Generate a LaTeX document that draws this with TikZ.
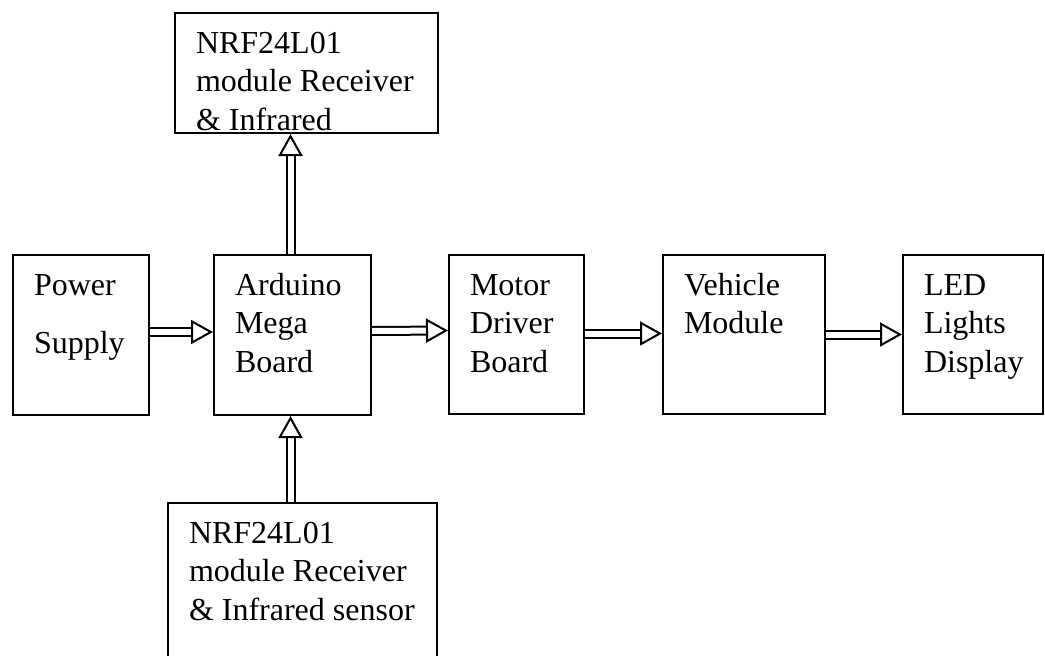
\documentclass[tikz,border=0pt]{standalone}
\usepackage{fontspec}
\setmainfont{Liberation Serif}
\usepackage{tikz}
\usetikzlibrary{arrows.meta, positioning, backgrounds}

% text block at the top left of a box
\newcommand{\blocktext}[3]{\parbox[c][#2][t]{#1}{\raggedright\leftskip=21pt\rule{0pt}{40pt}#3}}

\tikzset{
  blk/.style={draw, line width=2pt, anchor=north west, inner sep=0pt,
              font=\fontsize{32}{38.5}\selectfont},
  flow/.style={double, double distance=6pt, line width=2pt,
               -{Triangle[open, length=22pt, width=24pt, line width=2pt]}}
}

\begin{document}
\begin{tikzpicture}[x=1pt, y=-1pt]
  \useasboundingbox (0,0) rectangle (1045,656);

  \node[blk] (nrftop) at (174,12) {\blocktext{263pt}{120pt}{NRF24L01\\ module Receiver\\ \& Infrared}};
  \node[blk] (power) at (12,254) {\blocktext{136pt}{160pt}{Power\\[19.5pt] Supply}};
  \node[blk] (arduino) at (213,254) {\blocktext{157pt}{160pt}{Arduino\\ Mega\\ Board}};
  \node[blk] (motor) at (448,254) {\blocktext{135pt}{159pt}{Motor\\ Driver\\ Board}};
  \node[blk] (vehicle) at (662,254) {\blocktext{162pt}{159pt}{Vehicle\\ Module}};
  \node[blk] (led) at (902,254) {\blocktext{140pt}{159pt}{LED\\ Lights\\ Display}};
  \node[blk] (nrfbot) at (167,502) {\blocktext{269pt}{165pt}{NRF24L01\\ module Receiver\\ \& Infrared sensor}};

  \begin{scope}[on background layer]
    \draw[flow] ([yshift=3pt]power.east) -- ([yshift=3pt]arduino.west);
    \draw[flow] ([yshift=4pt]arduino.east) -- ([yshift=4pt]motor.west);
    \draw[flow] ([yshift=1pt]motor.east) -- ([yshift=1pt]vehicle.west);
    \draw[flow] (vehicle.east) -- (led.west);
    \draw[flow] ([xshift=-2pt]arduino.north) -- ([xshift=-2pt]arduino.north |- nrftop.south);
    \draw[flow] ([xshift=-2pt]arduino.south |- nrfbot.north) -- ([xshift=-2pt]arduino.south);
  \end{scope}
\end{tikzpicture}
\end{document}
